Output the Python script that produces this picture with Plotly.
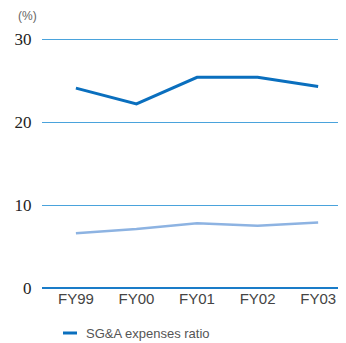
import plotly.graph_objects as go

years = ["FY99", "FY00", "FY01", "FY02", "FY03"]
sga_ratio = [24.1, 22.2, 25.4, 25.4, 24.3]
other_ratio = [6.6, 7.1, 7.8, 7.5, 7.9]
y_ticks = [0, 10, 20, 30]

fig = go.Figure()

fig.add_trace(go.Scatter(
    x=years, y=other_ratio, mode="lines", name="",
    line=dict(color="#8db3e2", width=2.5), showlegend=False,
))
fig.add_trace(go.Scatter(
    x=years, y=sga_ratio, mode="lines", name="SG&A expenses ratio",
    line=dict(color="#0a6fbe", width=3), showlegend=False,
))

# legend drawn by hand (short swatch)
fig.add_shape(type="line", xref="paper", yref="paper", x0=(63 - 42) / 304, x1=(77 - 42) / 304,
              y0=-45 / 253, y1=-45 / 253, line=dict(color="#0a6fbe", width=3))
fig.add_annotation(text="SG&A expenses ratio", xref="paper", yref="paper",
                   x=(84 - 42) / 304, y=-45 / 253, xanchor="left", yanchor="middle",
                   showarrow=False, font=dict(family="Arial", size=13, color="#555555"))

# unit label
fig.add_annotation(text="(%)", xref="paper", yref="paper", x=-26 / 304, y=(288 - 16) / 253,
                   xanchor="left", yanchor="middle", showarrow=False,
                   font=dict(family="Arial", size=12, color="#666666"))

# page body adds an 8px margin, so the figure is 8px smaller and shifted
fig.update_layout(
    width=338, height=335,
    margin=dict(l=34, r=0, t=27, b=55),
    paper_bgcolor="white", plot_bgcolor="white",
    xaxis=dict(
        range=[-0.56, 4.46], showgrid=False, zeroline=False, showline=False,
        tickfont=dict(family="Arial", size=15, color="#444444"),
    ),
    yaxis=dict(
        range=[0, 30.5], tickvals=y_ticks, showgrid=True, gridcolor="#4aa3dc", gridwidth=1,
        zeroline=True, zerolinecolor="#1a7cc8", zerolinewidth=1.5,
        ticks="outside", ticklen=6, tickcolor="rgba(0,0,0,0)",
        tickfont=dict(family="Liberation Serif", size=17, color="#222222"),
    ),
)

fig.write_html("out.html")
